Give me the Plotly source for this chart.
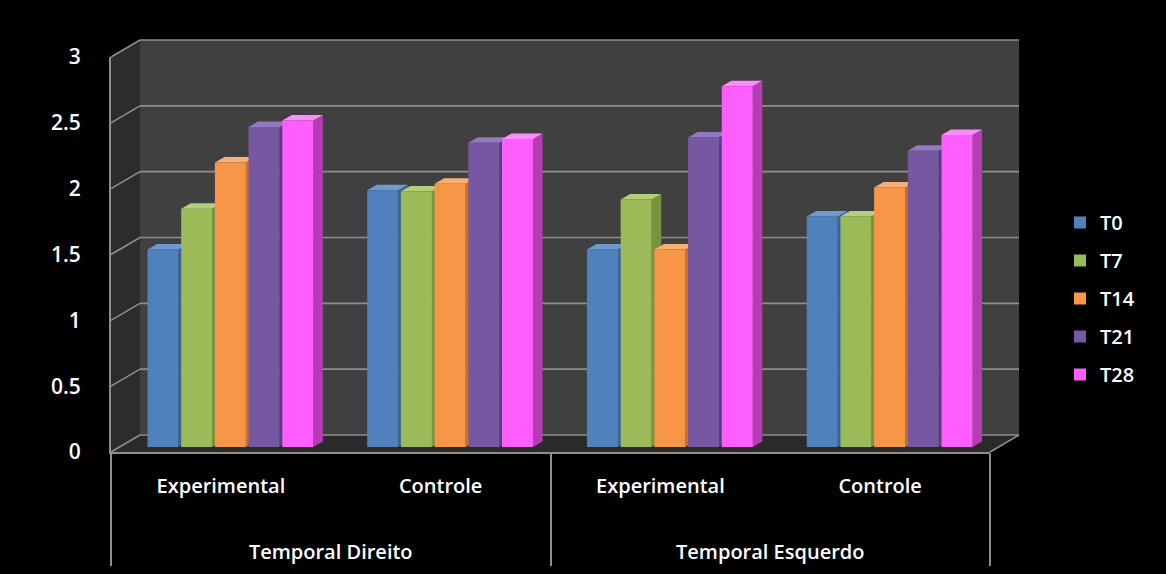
import plotly.graph_objects as go

# ---- data ----------------------------------------------------------------
regions = ["Temporal Direito", "Temporal Direito", "Temporal Esquerdo", "Temporal Esquerdo"]
groups = ["Experimental", "Controle", "Experimental", "Controle"]
series_names = ["T0", "T7", "T14", "T21", "T28"]
t0 = [1.50, 1.95, 1.50, 1.75]
t7 = [1.81, 1.94, 1.88, 1.75]
t14 = [2.16, 2.00, 1.50, 1.97]
t21 = [2.43, 2.31, 2.35, 2.25]
t28 = [2.48, 2.34, 2.74, 2.37]
y_ticks = [0, 0.5, 1, 1.5, 2, 2.5, 3]

series_values = [t0, t7, t14, t21, t28]

# ---- styling -------------------------------------------------------------
front_colors = ["#4F81BD", "#9BBB59", "#F79646", "#7657A2", "#FF5EFF"]
side_colors = ["#3A6496", "#78943F", "#C8722E", "#563F7C", "#B63CB6"]
top_colors = ["#6E9AD0", "#B3CF78", "#F9AE74", "#9578BF", "#FF8CFF"]
FONT = "Open Sans"
TEXT = "#FFFFFF"
LINE = "#8E8E8E"

W, H = 1166, 574
# pixel frame of the pseudo-3D box
FRONT_L, FRONT_R = 111, 990           # front edge of the floor
FRONT_Y0, FRONT_Y3 = 452, 57          # front value scale (0 and 3)
DEPTH_X, DEPTH_Y = 29, 17             # depth offset of the back wall
BAR_Y0, BAR_Y3 = 447, 52              # value scale at the bars' depth
BAR_SHIFT_PX = 9.5                    # bars sit a little behind the front edge
FACE_DX, FACE_DY = 9.5, 5.5           # bar depth (side / top faces)
BAR_W_PX, BAR_PITCH_PX = 31.0, 33.7

slot_px = (FRONT_R - FRONT_L) / len(groups)
bar_w = BAR_W_PX / slot_px
pitch = BAR_PITCH_PX / slot_px
shift = BAR_SHIFT_PX / slot_px
group_span = (len(series_names) - 1) * pitch + bar_w

# transparent spacer lines open a gap between the two label rows
BLANK = "<span style='color:rgba(0,0,0,0)'>.</span>"
group_labels = [g + "<br>" + BLANK for g in groups]
region_labels = [BLANK + "<br>" + r for r in regions]


def fx(x):
    return x / W


def fy(y):
    return 1 - y / H


def val_to_px(v):
    return BAR_Y0 - v * (BAR_Y0 - BAR_Y3) / 3


fig = go.Figure()

# ---- bars ----------------------------------------------------------------
for k, (name, vals) in enumerate(zip(series_names, series_values)):
    offset = shift - group_span / 2 + k * pitch
    fig.add_trace(go.Bar(
        x=[region_labels, group_labels], y=vals, name=name,
        marker=dict(color=front_colors[k], line=dict(width=0)),
        width=bar_w, offset=offset,
        xaxis="x", yaxis="y2", legendgroup=name,
    ))

# empty trace so the front value axis has a subplot of its own
fig.add_trace(go.Scatter(
    x=[region_labels, group_labels], y=t0, mode="none", showlegend=False,
    hoverinfo="skip", xaxis="x", yaxis="y",
))

# ---- box: walls, floor, grid ---------------------------------------------
shapes = []
back_l, back_r = FRONT_L + DEPTH_X, FRONT_R + DEPTH_X
back_y0, back_y3 = FRONT_Y0 - DEPTH_Y, FRONT_Y3 - DEPTH_Y


def poly(points, fill, line_color=None, width=0):
    path = "M " + " L ".join(f"{fx(x):.5f},{fy(y):.5f}" for x, y in points) + " Z"
    return dict(type="path", path=path, xref="paper", yref="paper", layer="below",
                fillcolor=fill, line=dict(color=line_color or fill, width=width))


def seg(x0, y0, x1, y1, color=LINE, width=1.6):
    return dict(type="line", xref="paper", yref="paper", layer="below",
                x0=fx(x0), y0=fy(y0), x1=fx(x1), y1=fy(y1),
                line=dict(color=color, width=width))


# back wall
shapes.append(poly([(back_l, back_y3), (back_r, back_y3), (back_r, back_y0), (back_l, back_y0)], "#404040"))
# left side wall
shapes.append(poly([(FRONT_L, FRONT_Y3), (back_l, back_y3), (back_l, back_y0), (FRONT_L, FRONT_Y0)], "#2C2C2C"))
# floor
shapes.append(poly([(FRONT_L, FRONT_Y0), (FRONT_R, FRONT_Y0), (back_r, back_y0), (back_l, back_y0)], "#2A2A2A"))

for v in y_ticks:
    yb = back_y0 - v * (back_y0 - back_y3) / 3
    yf = FRONT_Y0 - v * (FRONT_Y0 - FRONT_Y3) / 3
    shapes.append(seg(back_l, yb, back_r, yb))
    shapes.append(seg(FRONT_L, yf, back_l, yb))
shapes.append(seg(FRONT_R, FRONT_Y0, back_r, back_y0))

# side and top faces of every bar
for i in range(len(groups)):
    centre = FRONT_L + (i + 0.5) * slot_px
    for k, vals in enumerate(series_values):
        xl = centre + (shift - group_span / 2 + k * pitch) * slot_px
        xr = xl + BAR_W_PX
        yt = val_to_px(vals[i])
        shapes.append(poly([(xr, BAR_Y0), (xr + FACE_DX, BAR_Y0 - FACE_DY),
                            (xr + FACE_DX, yt - FACE_DY), (xr, yt)], side_colors[k]))
        shapes.append(poly([(xl, yt), (xl + FACE_DX, yt - FACE_DY),
                            (xr + FACE_DX, yt - FACE_DY), (xr, yt)], top_colors[k]))

fig.update_layout(
    width=W, height=H,
    margin=dict(l=0, r=0, t=0, b=0, autoexpand=False),
    paper_bgcolor="#000000", plot_bgcolor="rgba(0,0,0,0)",
    font=dict(family=FONT, color=TEXT, size=18),
    barmode="overlay",
    showlegend=True,
    legend=dict(
        x=fx(1060), y=fy(203), xanchor="left", yanchor="top",
        bgcolor="rgba(0,0,0,0)", traceorder="grouped", tracegroupgap=9,
        font=dict(family=FONT, size=20, color=TEXT, weight=600),
    ),
    xaxis=dict(
        domain=[fx(FRONT_L), fx(FRONT_R)], anchor="y", automargin=False,
        type="multicategory", showline=True, linecolor=LINE, linewidth=2,
        showgrid=False, ticks="", showdividers=True,
        dividercolor=LINE, dividerwidth=2, ticklabelstandoff=15,
        tickfont=dict(family=FONT, size=20, color=TEXT, weight=600),
    ),
    yaxis=dict(
        domain=[fy(FRONT_Y0), fy(FRONT_Y3)], anchor="x", automargin=False,
        range=[0, 3], tickvals=y_ticks, ticktext=[f"{v:g}" for v in y_ticks],
        showgrid=False, zeroline=False, showline=True, linecolor=LINE, linewidth=2,
        ticks="", ticklabelstandoff=24,
        tickfont=dict(family=FONT, size=21, color=TEXT, weight=600),
    ),
    yaxis2=dict(
        domain=[fy(BAR_Y0), fy(BAR_Y3)], anchor="x", automargin=False,
        range=[0, 3], visible=False, showgrid=False, zeroline=False,
    ),
    shapes=shapes,
)

fig.write_html("out.html")
